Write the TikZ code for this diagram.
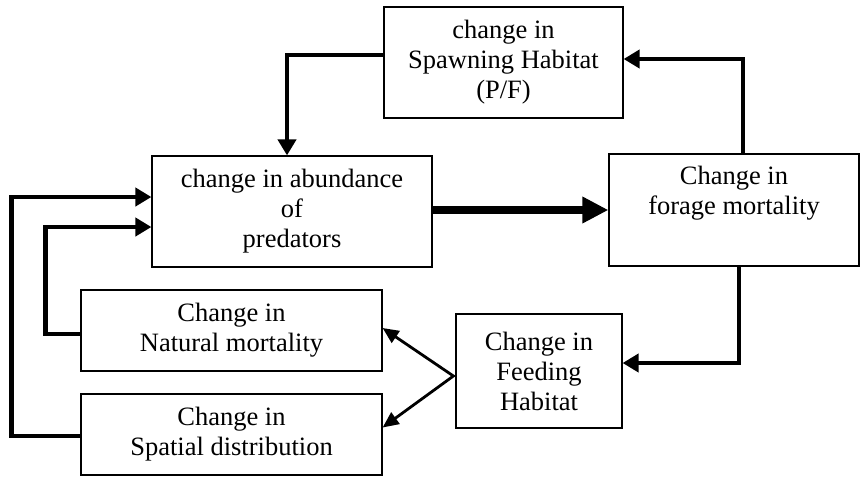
\documentclass[tikz,border=0pt]{standalone}
\usepackage{fontspec}
\setmainfont{Liberation Serif}
\usepackage{tikz}
\usetikzlibrary{arrows.meta,positioning,calc}
\tikzset{
block/.style = {draw, fill=white, rectangle, line width=1.2pt, align=center, inner sep=0pt, font=\fontsize{26.5}{30}\selectfont},
link/.style = {line width=4.5pt, -{Triangle[length=16pt,width=18pt]}},
biglink/.style = {line width=8pt, -{Triangle[length=26pt,width=25pt]}},
thinlink/.style = {line width=2.8pt, {Triangle[length=16pt,width=14pt]}-{Triangle[length=16pt,width=14pt]}}
}
\begin{document}
\begin{tikzpicture}[x=1pt,y=-1pt]
    \useasboundingbox (0,0) rectangle (861,477);
    \node [block, minimum width=239pt, minimum height=111pt] (spawn) at (503.5,62.5) {change in\\Spawning Habitat\\(P/F)};
    \node [block, minimum width=280pt, minimum height=111pt] (abund) at (292,211.5) {change in abundance\\of\\predators};
    \node [block, minimum width=250pt, minimum height=112pt] (forage) at (734,210) {Change in\\forage mortality\\\strut};
    \node [block, minimum width=301pt, minimum height=81pt] (natural) at (231.5,330.5) {Change in\\Natural mortality};
    \node [block, minimum width=301pt, minimum height=81pt] (spatial) at (231.5,434.5) {Change in\\Spatial distribution};
    \node [block, minimum width=166pt, minimum height=114pt] (feed) at (539,371) {Change in\\Feeding\\Habitat};
    \coordinate (fork) at ([xshift=-2pt,yshift=-5pt]feed.west);
    \draw [link] ([xshift=9pt]forage.north) |- ([yshift=3.5pt]spawn.east);
    \draw [link] ([yshift=7.5pt]spawn.west) -| ([xshift=-5pt]abund.north);
    \draw [biglink] ([yshift=1.5pt]abund.east) -- ([yshift=1.5pt]abund.east -| forage.west);
    \draw [link] ([xshift=5pt]forage.south) |- ([yshift=8pt]feed.east);
    \draw [thinlink] ([yshift=2.5pt]natural.east) -- (fork) -- ([yshift=7pt]spatial.east);
    \draw [link] ([yshift=-3.5pt]natural.west) -- ++(-35,0) |- ([yshift=-15.5pt]abund.west);
    \draw [link] ([yshift=-1.5pt]spatial.west) -- ++(-69,0) |- ([yshift=14.5pt]abund.west);
\end{tikzpicture}
\end{document}
